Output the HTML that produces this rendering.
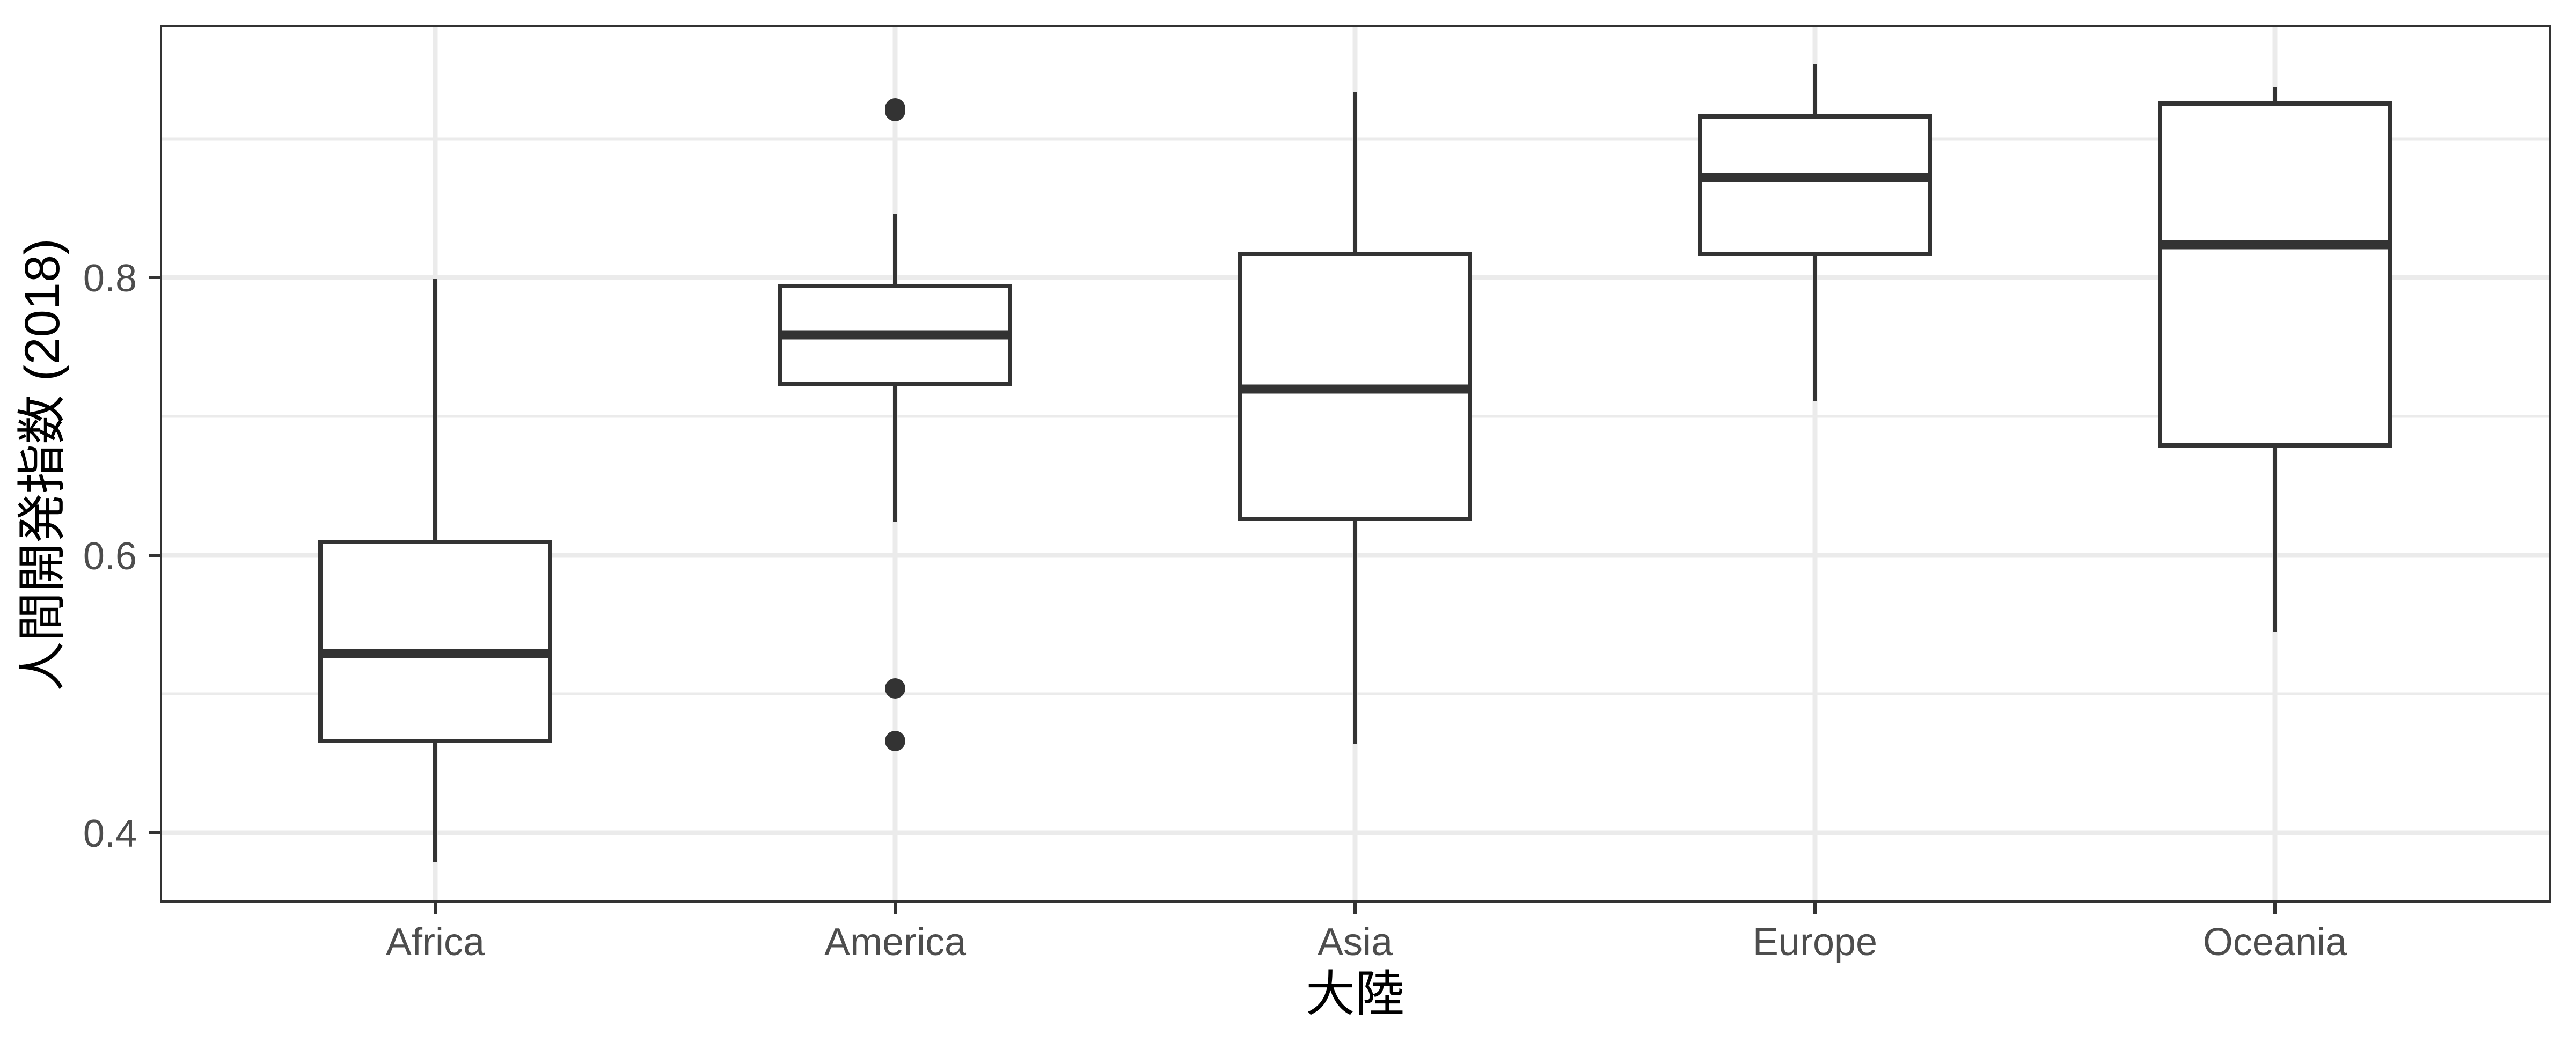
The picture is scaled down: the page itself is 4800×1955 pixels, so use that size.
<!DOCTYPE html>
<html><head><meta charset="utf-8"><style>html,body{margin:0;padding:0;background:#fff}</style></head>
<body>
<svg width="4800" height="1950" viewBox="0 0 4800 1950" xmlns="http://www.w3.org/2000/svg">
<rect x="0" y="0" width="4800" height="1950" fill="#fff"/>
<g stroke="#ebebeb" fill="none">
<g stroke-width="5">
<line x1="300" x2="4751" y1="259" y2="259"/>
<line x1="300" x2="4751" y1="776" y2="776"/>
<line x1="300" x2="4751" y1="1293" y2="1293"/>
</g>
<g stroke-width="9">
<line x1="300" x2="4751" y1="517" y2="517"/>
<line x1="300" x2="4751" y1="1035" y2="1035"/>
<line x1="300" x2="4751" y1="1552" y2="1552"/>
<line y1="49" y2="1680" x1="811" x2="811"/>
<line y1="49" y2="1680" x1="1668" x2="1668"/>
<line y1="49" y2="1680" x1="2525" x2="2525"/>
<line y1="49" y2="1680" x1="3382" x2="3382"/>
<line y1="49" y2="1680" x1="4239" x2="4239"/>
</g>
</g>
<g stroke="#333" stroke-width="8" fill="#fff">
<line x1="811" x2="811" y1="520" y2="1010"/><line x1="811" x2="811" y1="1381" y2="1607"/>
<rect x="597" y="1010" width="428" height="371"/>
<line x1="597" x2="1025" y1="1218" y2="1218" stroke-width="17"/>
<line x1="1668" x2="1668" y1="398" y2="533"/><line x1="1668" x2="1668" y1="716" y2="973"/>
<rect x="1454" y="533" width="428" height="183"/>
<line x1="1454" x2="1882" y1="624" y2="624" stroke-width="17"/>
<line x1="2525" x2="2525" y1="171" y2="474"/><line x1="2525" x2="2525" y1="967" y2="1387"/>
<rect x="2311" y="474" width="428" height="493"/>
<line x1="2311" x2="2739" y1="725" y2="725" stroke-width="17"/>
<line x1="3382" x2="3382" y1="119" y2="217"/><line x1="3382" x2="3382" y1="474" y2="747"/>
<rect x="3168" y="217" width="428" height="257"/>
<line x1="3168" x2="3596" y1="331" y2="331" stroke-width="17"/>
<line x1="4239" x2="4239" y1="162" y2="193"/><line x1="4239" x2="4239" y1="830" y2="1178"/>
<rect x="4025" y="193" width="428" height="637"/>
<line x1="4025" x2="4453" y1="456" y2="456" stroke-width="17"/>
</g>
<g fill="#333">
<circle cx="1668" cy="202" r="19"/><circle cx="1668" cy="207" r="19"/>
<circle cx="1668" cy="1283" r="19"/><circle cx="1668" cy="1381" r="19"/>
</g>
<rect x="300" y="49" width="4451" height="1631" fill="none" stroke="#333" stroke-width="4"/>
<g stroke="#333" stroke-width="6">
<line x1="277" x2="300" y1="517" y2="517"/>
<line x1="277" x2="300" y1="1035" y2="1035"/>
<line x1="277" x2="300" y1="1552" y2="1552"/>
<line y1="1680" y2="1703" x1="811" x2="811"/>
<line y1="1680" y2="1703" x1="1668" x2="1668"/>
<line y1="1680" y2="1703" x1="2525" x2="2525"/>
<line y1="1680" y2="1703" x1="3382" x2="3382"/>
<line y1="1680" y2="1703" x1="4239" x2="4239"/>
</g>
<g font-family="Liberation Sans, sans-serif" font-size="72" fill="#4d4d4d">
<g text-anchor="end">
<text x="255" y="543">0.8</text>
<text x="255" y="1061">0.6</text>
<text x="255" y="1578">0.4</text>
</g>
<g text-anchor="middle">
<text x="811" y="1780">Africa</text>
<text x="1668" y="1780">America</text>
<text x="2525" y="1780">Asia</text>
<text x="3382" y="1780">Europe</text>
<text x="4239" y="1780">Oceania</text>
</g>
</g>
<g font-family="Liberation Sans, 'Noto Sans CJK JP', sans-serif" font-size="92" fill="#000" text-anchor="middle">
<text x="2525" y="1884">大陸</text>
<text transform="translate(110,866) rotate(-90)" x="0" y="0">人間開発指数 (2018)</text>
</g>
</svg>
</body></html>
